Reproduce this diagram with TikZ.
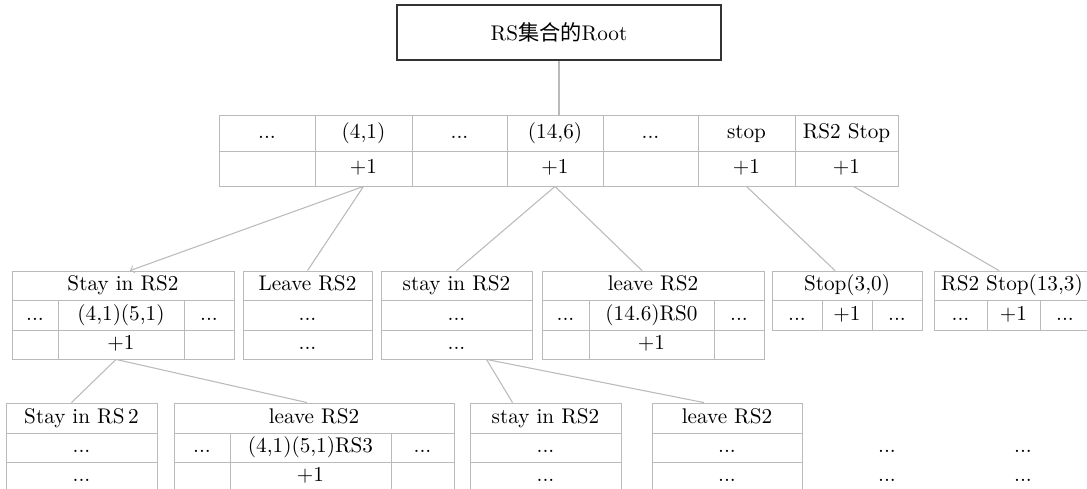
\documentclass[tikz,border=0pt]{standalone}
\usepackage{fontspec}
\newfontfamily\cjk{Noto Sans CJK SC}
\def\px{0.4717pt} % one pixel of the layout
\newcommand{\ellip}{...}
% cell: name, x1, y1, x2, y2, text
\newcommand{\tcell}[6]{\node[cell, minimum width={(#4-#2)*\px}, minimum height={(#5-#3)*\px}] (#1) at ({(#2+#4)/2},{(#3+#5)/2}) {#6};}
\colorlet{linegray}{black!27}
\tikzset{
  cell/.style={draw=linegray, inner sep=0pt, text height=7pt, text depth=2pt},
  plain/.style={inner sep=0pt, text height=7pt, text depth=2pt},
  rootbox/.style={draw=black!80, line width=0.8pt, inner sep=0pt},
  link/.style={draw=linegray, line width=0.5pt}
}
\begin{document}
\begin{tikzpicture}[x=\px, y=-\px]
\useasboundingbox (0,0) rectangle (1087,488);

\node[rootbox, minimum width=324*\px, minimum height=55*\px] (root) at (559,32.5) {RS{\cjk 集合的}Root};

% top table, h = upper row, p = lower row
\foreach \i/\xa/\xb/\ta/\tb in {1/219/315/\ellip/{}, 2/315/412/{(4,1)}/+1, 3/412/507/\ellip/{},
  4/507/603/{(14,6)}/+1, 5/603/698/\ellip/{}, 6/698/795/stop/+1, 7/795/898/{RS2 Stop}/+1}
{
  \tcell{h\i}{\xa}{115}{\xb}{151}{\ta}
  \tcell{p\i}{\xa}{151}{\xb}{186}{\tb}
}

% second level
\tcell{a0}{12}{271}{234}{300}{Stay in RS2}
\tcell{a1l}{12}{300}{58}{330}{\ellip}
\tcell{a1m}{58}{300}{184}{330}{(4,1)(5,1)}
\tcell{a1r}{184}{300}{234}{330}{\ellip}
\tcell{a2l}{12}{330}{58}{359}{}
\tcell{a2m}{58}{330}{184}{359}{+1}
\tcell{a2r}{184}{330}{234}{359}{}

\tcell{b0}{243}{271}{372}{300}{Leave RS2}
\tcell{b1}{243}{300}{372}{330}{\ellip}
\tcell{b2}{243}{330}{372}{359}{\ellip}

\tcell{c0}{381}{271}{532}{300}{stay in RS2}
\tcell{c1}{381}{300}{532}{330}{\ellip}
\tcell{c2}{381}{330}{532}{359}{\ellip}

\tcell{d0}{542}{271}{764}{300}{leave RS2}
\tcell{d1l}{542}{300}{589}{330}{\ellip}
\tcell{d1m}{589}{300}{714}{330}{(14.6)RS0}
\tcell{d1r}{714}{300}{764}{330}{\ellip}
\tcell{d2l}{542}{330}{589}{359}{}
\tcell{d2m}{589}{330}{714}{359}{+1}
\tcell{d2r}{714}{330}{764}{359}{}

\tcell{e0}{772}{271}{922}{300}{Stop(3,0)}
\tcell{e1l}{772}{300}{822}{330}{\ellip}
\tcell{e1m}{822}{300}{872}{330}{+1}
\tcell{e1r}{872}{300}{922}{330}{\ellip}

\tcell{f0}{934}{271}{1090}{300}{RS2 Stop(13,3)}
\tcell{f1l}{934}{300}{987}{330}{\ellip}
\tcell{f1m}{987}{300}{1040}{330}{+1}
\tcell{f1r}{1040}{300}{1090}{330}{\ellip}

% third level
\tcell{g0}{6}{403}{157}{433}{Stay in RS\,2}
\tcell{g1}{6}{433}{157}{462}{\ellip}
\tcell{g2}{6}{462}{157}{491}{\ellip}

\tcell{k0}{174}{403}{454}{433}{leave RS2}
\tcell{k1l}{174}{433}{230}{462}{\ellip}
\tcell{k1m}{230}{433}{391}{462}{(4,1)(5,1)RS3}
\tcell{k1r}{391}{433}{454}{462}{\ellip}
\tcell{k2l}{174}{462}{230}{491}{}
\tcell{k2m}{230}{462}{391}{491}{+1}
\tcell{k2r}{391}{462}{454}{491}{}

\tcell{i0}{470}{403}{621}{433}{stay in RS2}
\tcell{i1}{470}{433}{621}{462}{\ellip}
\tcell{i2}{470}{462}{621}{491}{\ellip}

\tcell{j0}{652}{403}{802}{433}{leave RS2}
\tcell{j1}{652}{433}{802}{462}{\ellip}
\tcell{j2}{652}{462}{802}{491}{\ellip}

\foreach \n/\xc in {m/887, n/1023}
{
  \node[plain] (\n1) at (\xc,447.5) {\ellip};
  \node[plain] (\n2) at (\xc,476.5) {\ellip};
}

% connectors
\draw[link] (root.south) -- (root.south |- h4.north);
\draw[link,->] (p2.south) -- ([xshift=7*\px]a0.north);
\draw[link] (p2.south) -- (b0.north);
\draw[link] (p4.south) -- (c0.north);
\draw[link] (p4.south) -- ([xshift=-11*\px]d0.north);
\draw[link] (p6.south) -- ([xshift=-12*\px]e0.north);
\draw[link] ([xshift=7*\px]p7.south) -- ([xshift=-13*\px]f0.north);
\draw[link] ([xshift=-5*\px]a2m.south) -- ([xshift=-10*\px]g0.north);
\draw[link] ([xshift=-5*\px]a2m.south) -- ([xshift=-7*\px]k0.north);
\draw[link] ([xshift=30*\px]c2.south) -- ([xshift=-33*\px]i0.north);
\draw[link] ([xshift=30*\px]c2.south) -- ([xshift=-23*\px]j0.north);
\end{tikzpicture}
\end{document}
